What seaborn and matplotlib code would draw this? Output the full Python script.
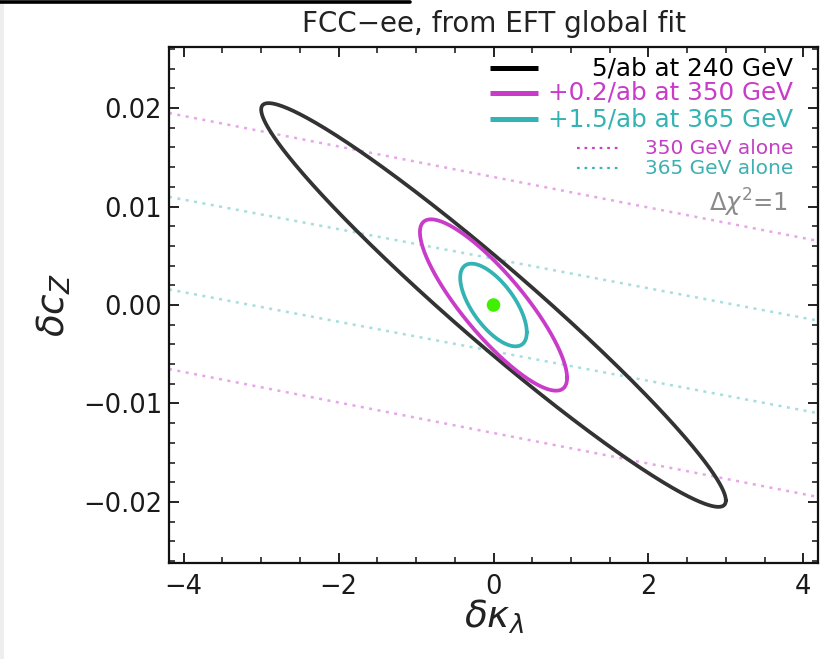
import numpy as np
import pandas as pd
import seaborn as sns
import matplotlib
matplotlib.use("Agg")
import matplotlib.pyplot as plt
from matplotlib.ticker import MultipleLocator, FuncFormatter
from matplotlib.lines import Line2D
from matplotlib.patches import Rectangle

# ---------------- data ----------------
ellipse_labels = ["5/ab at 240 GeV", "+0.2/ab at 350 GeV", "+1.5/ab at 365 GeV"]
ellipse_sigma_kl = [3.0, 0.95, 0.43]        # half extent in delta kappa_lambda
ellipse_sigma_cz = [0.0205, 0.0087, 0.0042]  # half extent in delta c_Z
ellipse_rho = [-0.968, -0.85, -0.66]         # correlation
ellipse_colors = ["#333333", "#C93BC9", "#33B3B3"]

alone_labels = ["350 GeV alone", "365 GeV alone"]
alone_slope = [-0.00155, -0.00150]      # centre line slope d(cZ)/d(kl)
alone_halfwidth = [0.0130, 0.0047]      # half band width in cZ
alone_plot_colors = ["#E8A6E8", "#A6DEDE"]
alone_legend_colors = ["#C33FC3", "#3DB0B0"]

best_fit_kl = [0.0]
best_fit_cz = [0.0]

x_ticks = [-4, -2, 0, 2, 4]
y_ticks = [-0.02, -0.01, 0.00, 0.01, 0.02]
x_range = [-4.19, 4.19]
y_range = [-0.0262, 0.0262]

title = "FCC\u2212ee, from EFT global fit"

# ---------------- style ----------------
sns.set_theme(style="ticks")
plt.rcParams["font.family"] = ["DejaVu Sans"]
plt.rcParams["mathtext.fontset"] = "dejavusans"

W, H = 833, 659
fig = plt.figure(figsize=(W / 100, H / 100), dpi=100)
ax = fig.add_axes([169 / W, 1 - 563 / H, 649 / W, 516 / H])

# ---------------- "alone" bands (dotted) ----------------
for lab, sl, hw, col in zip(alone_labels, alone_slope, alone_halfwidth, alone_plot_colors):
    for sign in (1, -1):
        df = pd.DataFrame({"kl": x_range,
                           "cz": [sl * x + sign * hw for x in x_range]})
        sns.lineplot(data=df, x="kl", y="cz", ax=ax, color=col, lw=1.8,
                     linestyle=(0, (1.2, 2.2)), sort=False, estimator=None)

# ---------------- Delta chi^2 = 1 ellipses ----------------
t = np.linspace(0, 2 * np.pi, 500)
for lab, sx, sy, r, col in zip(ellipse_labels, ellipse_sigma_kl, ellipse_sigma_cz,
                               ellipse_rho, ellipse_colors):
    df = pd.DataFrame({"kl": sx * np.cos(t),
                       "cz": sy * (r * np.cos(t) + np.sqrt(1 - r * r) * np.sin(t))})
    sns.lineplot(data=df, x="kl", y="cz", ax=ax, color=col, lw=2.7,
                 sort=False, estimator=None)

sns.scatterplot(x=best_fit_kl, y=best_fit_cz, ax=ax, s=95, color="#3FF000",
                edgecolor="none", zorder=5)

# ---------------- axes ----------------
ax.set_xlim(x_range)
ax.set_ylim(y_range)
ax.set_xticks(x_ticks)
ax.set_yticks(y_ticks)
ax.xaxis.set_minor_locator(MultipleLocator(0.5))
ax.yaxis.set_minor_locator(MultipleLocator(0.002))
ax.xaxis.set_major_formatter(FuncFormatter(lambda v, p: f"{v:.0f}".replace("-", "\u2212")))
ax.yaxis.set_major_formatter(FuncFormatter(
    lambda v, p: ("0.00" if abs(v) < 1e-9 else f"{v:.2f}".replace("-", "\u2212"))))
ax.tick_params(which="both", direction="in", top=True, right=True, bottom=True, left=True,
               color="#111111", labelcolor="#1a1a1a", labelsize=18.5)
ax.tick_params(which="major", length=7, width=1.3)
ax.tick_params(which="minor", length=4, width=1.1)
ax.tick_params(axis="x", pad=8)
ax.tick_params(axis="y", pad=5)
for s in ax.spines.values():
    s.set_visible(True)
    s.set_color("#111111")
    s.set_linewidth(1.6)

ax.set_xlabel(r"$\delta\kappa_\lambda$", fontsize=27, color="#222222")
ax.set_ylabel(r"$\delta c_Z$", fontsize=27, color="#222222")
ax.xaxis.set_label_coords(0.5, -0.068)
ax.yaxis.set_label_coords(-0.148, 0.5)
ax.set_title(title, fontsize=20, color="#222222", pad=11)

# ---------------- legend drawn in axes coordinates ----------------
y_main = [0.959, 0.911, 0.860]
for lab, col, yy in zip(ellipse_labels, ellipse_colors, y_main):
    c = "black" if col == "#333333" else col
    ax.plot([0.495, 0.569], [yy, yy], transform=ax.transAxes, color=c, lw=3.6,
            solid_capstyle="butt")
    ax.text(0.962, yy, lab, transform=ax.transAxes, ha="right", va="center",
            fontsize=17.7, color=c)
y_small = [0.804, 0.765]
for lab, col, yy in zip(alone_labels, alone_legend_colors, y_small):
    ax.plot([0.629, 0.692], [yy, yy], transform=ax.transAxes, color=col, lw=1.6,
            linestyle=(0, (1.2, 2.2)))
    ax.text(0.962, yy, lab, transform=ax.transAxes, ha="right", va="center",
            fontsize=14.5, color=col)
ax.text(0.954, 0.698, r"$\Delta\chi^2$=1", transform=ax.transAxes, ha="right",
        va="center", fontsize=17.5, color="#8a8a8a")

# scan artefacts of the reference image
fig.add_artist(Line2D([0, 410 / W], [1 - 1.5 / H] * 2, transform=fig.transFigure,
                      color="black", lw=2.6))
fig.add_artist(Rectangle((0, 0), 4 / W, 1, transform=fig.transFigure,
                         facecolor="#eeeeee", edgecolor="none"))

fig.savefig("out.png", dpi=100)
